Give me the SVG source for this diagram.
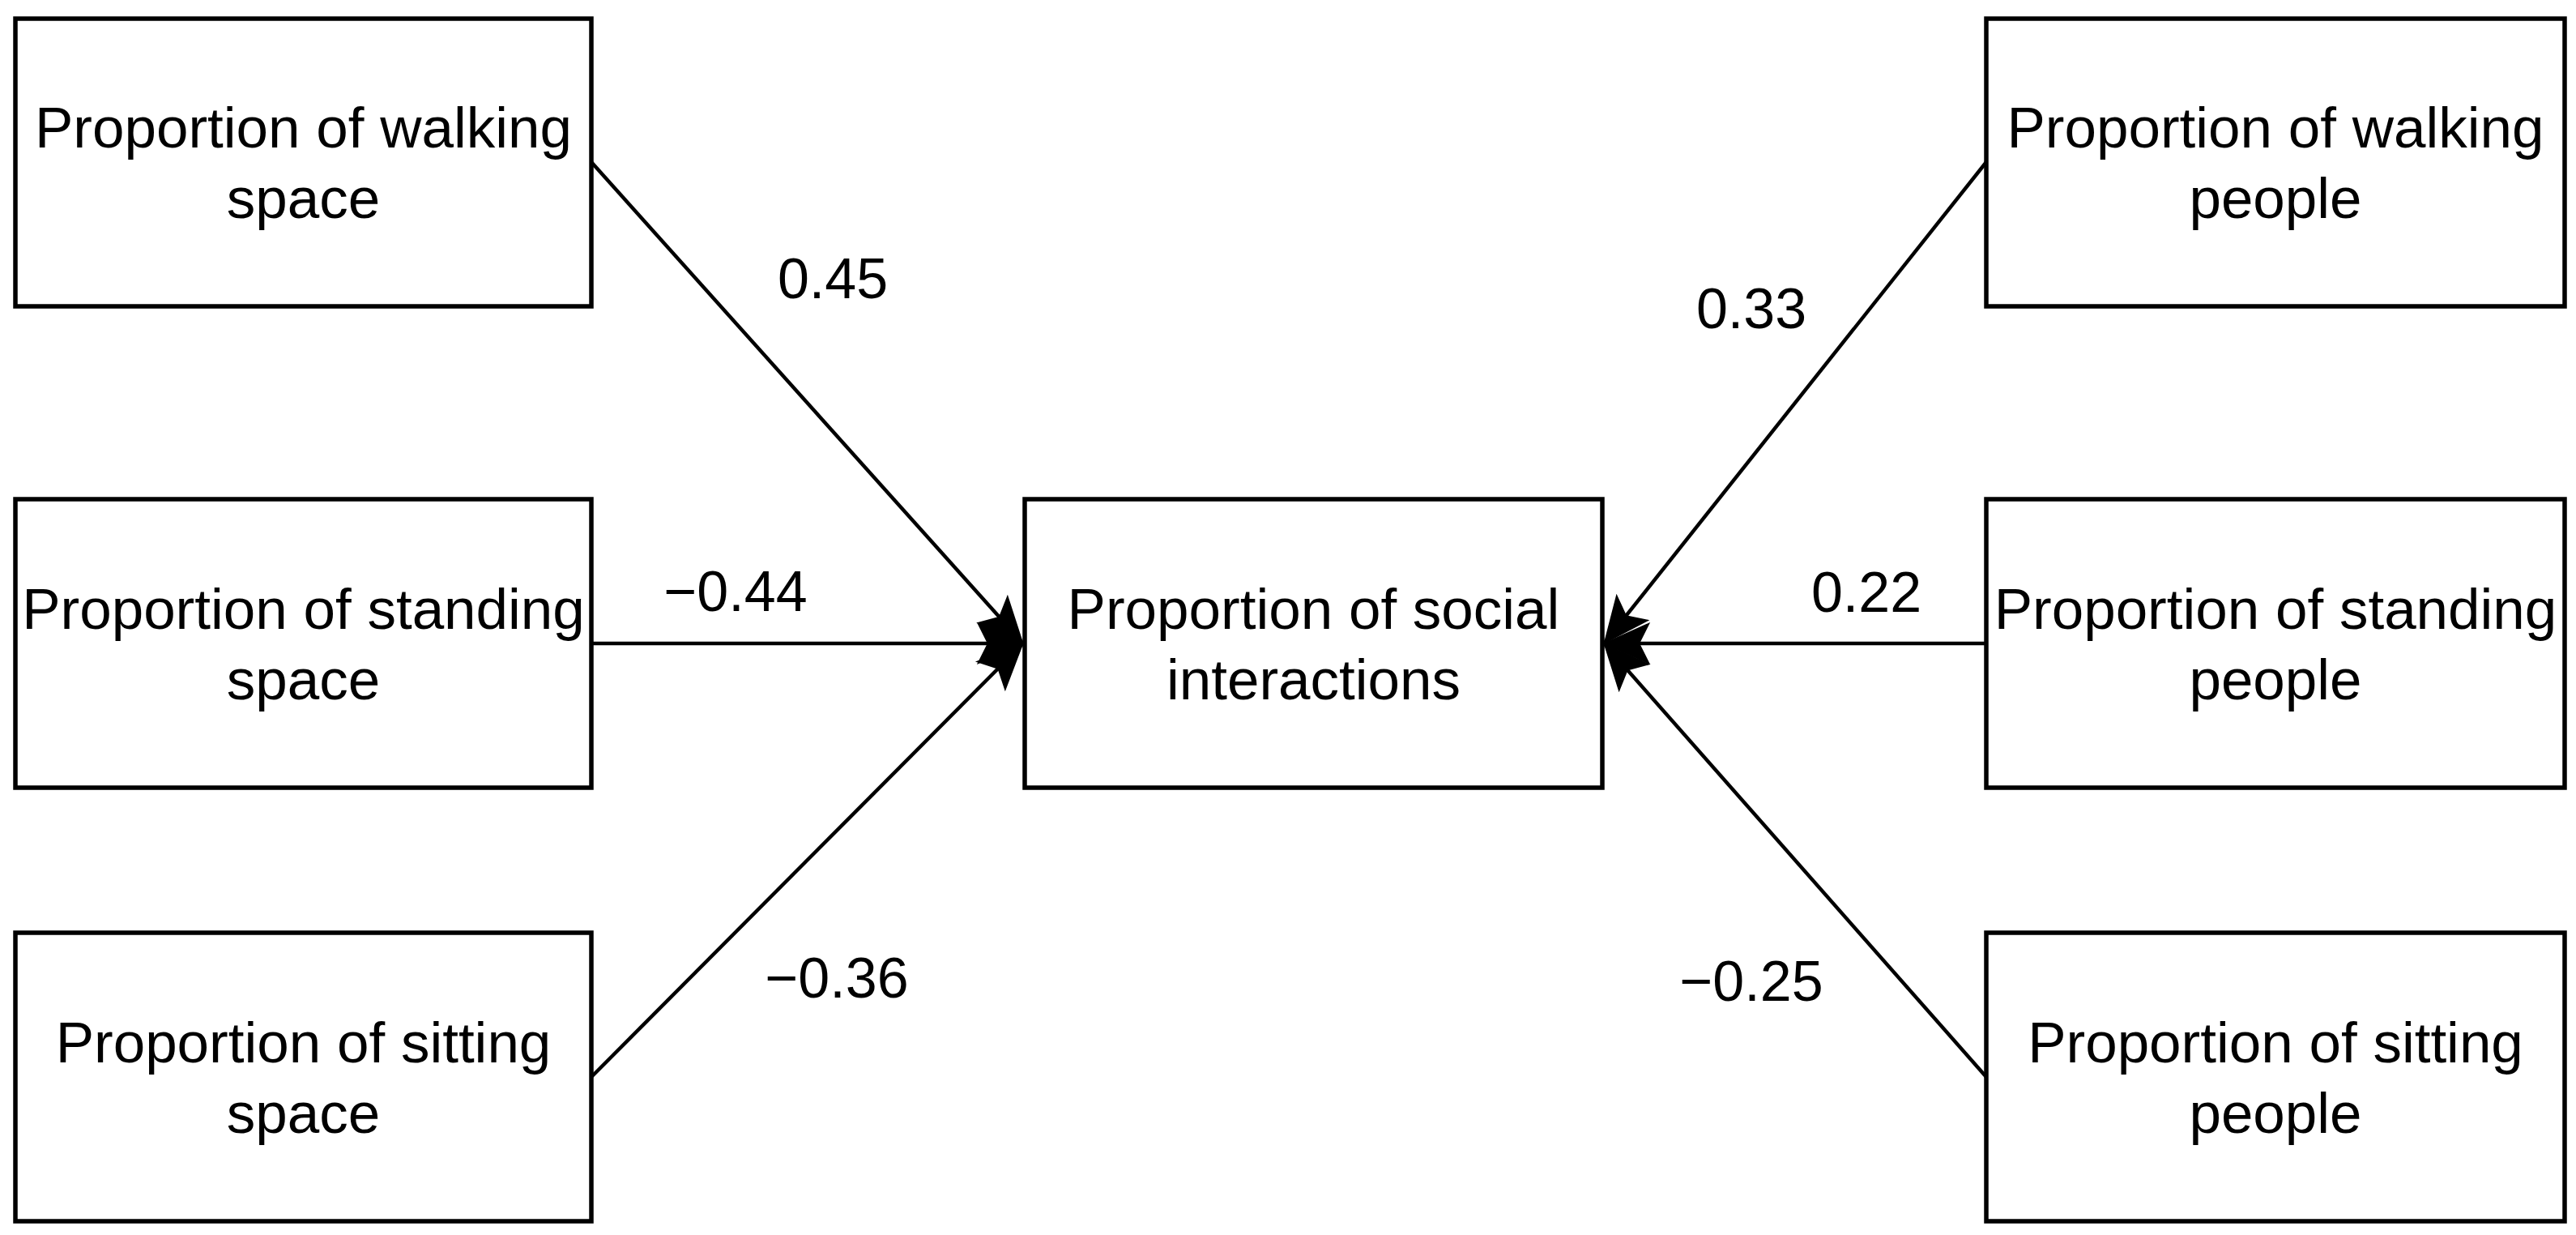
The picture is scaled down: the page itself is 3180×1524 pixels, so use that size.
<svg xmlns="http://www.w3.org/2000/svg" width="3180" height="1524" viewBox="0 0 3180 1524">
<defs>
<style>
.box{fill:#fff;stroke:#000;stroke-width:5.5}
.t{font-family:"Liberation Sans",Arial,sans-serif;font-size:71px;fill:#000;text-anchor:middle}
.lbl{font-family:"Liberation Sans",Arial,sans-serif;font-size:70px;fill:#000;text-anchor:middle}
.edge{stroke:#000;stroke-width:4.5;fill:none;marker-end:url(#arr)}
</style>
<marker id="arr" markerUnits="userSpaceOnUse" markerWidth="80" markerHeight="80" refX="54" refY="0" orient="auto" overflow="visible" viewBox="-10 -40 80 80">
<path d="M0,-24 L54,0 L0,24 L12,0 Z" fill="#000" stroke="#000" stroke-width="2"/>
</marker>
</defs>
<rect width="3180" height="1524" fill="#fff"/>
<g id="connectors">
<line class="edge" x1="730" y1="200" x2="1262" y2="793"/>
<line class="edge" x1="730" y1="794" x2="1262" y2="794"/>
<line class="edge" x1="730" y1="1329" x2="1262" y2="795"/>
<line class="edge" x1="2452" y1="200" x2="1981" y2="793"/>
<line class="edge" x1="2452" y1="794" x2="1981" y2="794"/>
<line class="edge" x1="2452" y1="1329" x2="1981" y2="795"/>
<text class="lbl" x="1028" y="368">0.45</text>
<text class="lbl" x="908" y="754">−0.44</text>
<text class="lbl" x="1033" y="1231">−0.36</text>
<text class="lbl" x="2162" y="405">0.33</text>
<text class="lbl" x="2304" y="755">0.22</text>
<text class="lbl" x="2162" y="1235">−0.25</text>
</g>
<g id="walking-space"><rect class="box" x="19" y="23" width="711" height="355"/><text class="t" x="374.5" y="182">Proportion of walking</text><text class="t" x="374.5" y="269">space</text></g>
<g id="standing-space"><rect class="box" x="19" y="616" width="711" height="356"/><text class="t" x="374.5" y="776">Proportion of standing</text><text class="t" x="374.5" y="863">space</text></g>
<g id="sitting-space"><rect class="box" x="19" y="1151" width="711" height="356"/><text class="t" x="374.5" y="1311">Proportion of sitting</text><text class="t" x="374.5" y="1398">space</text></g>
<g id="social-interactions"><rect class="box" x="1265" y="616" width="713" height="356"/><text class="t" x="1621.5" y="776">Proportion of social</text><text class="t" x="1621.5" y="863">interactions</text></g>
<g id="walking-people"><rect class="box" x="2452" y="23" width="714" height="355"/><text class="t" x="2809" y="182">Proportion of walking</text><text class="t" x="2809" y="269">people</text></g>
<g id="standing-people"><rect class="box" x="2452" y="616" width="714" height="356"/><text class="t" x="2809" y="776">Proportion of standing</text><text class="t" x="2809" y="863">people</text></g>
<g id="sitting-people"><rect class="box" x="2452" y="1151" width="714" height="356"/><text class="t" x="2809" y="1311">Proportion of sitting</text><text class="t" x="2809" y="1398">people</text></g>
</svg>
